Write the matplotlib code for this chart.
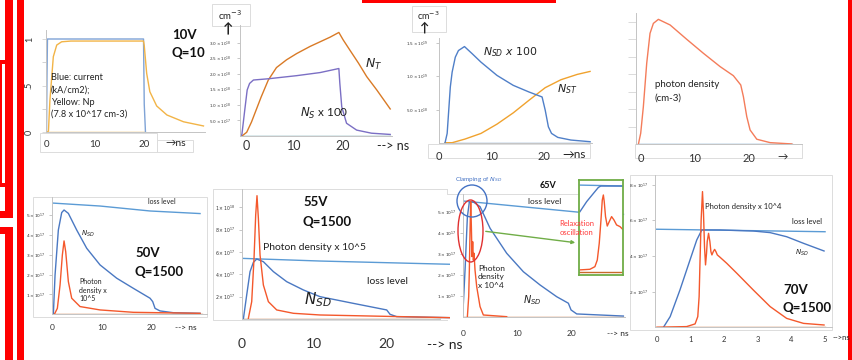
import matplotlib.pyplot as plt
from matplotlib.patches import Rectangle, Ellipse

plt.rcParams['font.family'] = ['Lato', 'DejaVu Sans']
plt.rcParams['mathtext.fontset'] = 'dejavusans'

W, H = 853, 360

# ---------------- data ----------------
# top row, 10V Q=10 : current (kA/cm2) and Np, both normalised
p1_cur_t = [0.0, 0.1, 0.2, 19.9, 20.05, 20.3]
p1_cur = [0.0, 0.6, 1.0, 1.0, 0.3, 0.0]
p1_np_t = [0.2, 0.4, 0.7, 1.4, 2.1, 3.1, 5.0, 19.9, 20.05, 20.55, 21.2, 22.6, 24.7, 28.1, 32.2]
p1_np = [0.0, 0.01, 0.34, 0.81, 0.935, 0.97, 0.978, 0.978, 0.93, 0.63, 0.433, 0.28, 0.183, 0.11, 0.065]

# NT and Ns x 100 (units 1e18 cm-3)
p2_nt_t = [-1.0, 0.0, 1.0, 2.0, 3.0, 4.5, 6.2, 8.3, 10.4, 13.2, 15.3, 17.4, 19.2,
           20.1, 21.5, 23.3, 25.0, 27.1, 29.9]
p2_nt = [0.0, 0.12, 0.45, 0.85, 1.25, 1.8, 2.2, 2.45, 2.65, 2.88, 3.03, 3.18, 3.33,
         3.09, 2.76, 2.34, 1.91, 1.48, 0.87]
p2_ns_t = [-1.2, -1.0, -0.4, 0.1, 0.6, 1.4, 4.5, 10.4, 15.3, 19.2, 19.4, 19.8, 20.8, 22.9, 26.0, 29.9]
p2_ns = [0.0, 0.05, 0.84, 1.48, 1.69, 1.8, 1.84, 1.94, 2.04, 2.17, 1.7, 0.94, 0.41, 0.19, 0.09, 0.05]

# NSD x 100 and NST (units 1e19 cm-3)
p3_nsd_t = [1.1, 1.5, 1.8, 2.1, 2.45, 3.05, 3.65, 4.8, 6.3, 7.95, 11.0, 14.1, 17.1, 19.6,
            20.2, 20.8, 21.4, 22.6, 25.1, 28.75]
p3_nsd = [0.0, 0.14, 0.49, 0.84, 1.065, 1.29, 1.39, 1.45, 1.34, 1.215, 1.015, 0.865, 0.765, 0.69,
          0.49, 0.24, 0.14, 0.08, 0.04, 0.015]
p3_nst_t = [1.1, 2.45, 4.9, 7.95, 11.0, 14.1, 17.1, 20.2, 23.2, 26.3, 28.75]
p3_nst = [0.0, 0.0, 0.055, 0.14, 0.28, 0.45, 0.64, 0.83, 0.95, 1.03, 1.075]

# photon density (tick units)
p4_t = [-0.43, 0.0, 0.49, 1.11, 1.72, 2.34, 3.26, 5.42, 8.49, 11.57, 14.65, 17.1, 18.46,
        18.95, 19.57, 20.18, 21.42, 23.88, 27.88]
p4_ph = [0.0, 0.63, 2.15, 4.63, 6.34, 6.91, 7.14, 6.82, 6.0, 5.2, 4.44, 3.92, 3.39,
         2.72, 1.58, 0.82, 0.29, 0.095, 0.02]

# bottom row, units 1e17 cm-3
p5_loss_t = [0.13, 9.67, 19.67, 29.67]
p5_loss = [5.61, 5.46, 5.21, 5.08]
p5_nsd_t = [0.33, 0.67, 1.33, 2.0, 2.47, 3.33, 5.0, 7.0, 9.67, 13.0, 16.33, 19.67, 20.2, 20.67,
            21.67, 24.33, 29.67]
p5_nsd = [0.0, 1.98, 4.25, 5.13, 5.26, 5.09, 4.25, 3.33, 2.49, 1.82, 1.31, 0.81, 0.64, 0.30,
          0.17, 0.08, 0.05]
p5_ph_t = [0.53, 1.13, 1.67, 2.13, 2.47, 2.8, 3.33, 4.0, 5.67, 9.67, 16.33, 29.67]
p5_ph = [0.0, 0.3, 1.48, 2.99, 3.70, 3.16, 1.65, 0.81, 0.39, 0.22, 0.10, 0.05]

p6_loss_t = [0.0, 10.8, 28.7]
p6_loss = [5.43, 5.19, 4.90]
p6_nsd_t = [0.23, 0.69, 1.15, 1.61, 2.07, 2.99, 4.37, 6.21, 8.51, 10.8, 15.4, 20.0, 20.46, 21.38, 28.7]
p6_nsd = [0.0, 2.15, 4.24, 5.07, 5.37, 5.13, 4.24, 3.34, 2.60, 2.0, 1.40, 0.81, 0.42, 0.21, 0.12]
p6_ph_t = [0.92, 1.38, 1.70, 1.93, 2.11, 2.30, 2.53, 2.99, 3.68, 4.83, 7.13, 10.8, 28.7]
p6_ph = [0.06, 1.55, 5.43, 9.31, 11.04, 9.01, 5.73, 3.04, 1.55, 0.81, 0.51, 0.36, 0.12]

p7_loss_t = [0.0, 21.5, 29.5]
p7_loss = [5.54, 5.0, 4.9]
p7_nsd_t = [0.0, 0.43, 0.86, 1.22, 1.96, 3.18, 5.02, 8.07, 11.13, 14.19, 17.25, 19.39, 19.88, 20.92, 29.48]
p7_nsd = [0.03, 2.25, 4.79, 5.49, 5.49, 5.27, 4.24, 3.05, 2.17, 1.54, 0.98, 0.67, 0.35, 0.16, 0.06]
p7_ph_t = [0.86, 1.1, 1.22, 1.35, 1.47, 1.59, 1.71, 1.83, 1.96, 2.08, 2.26, 2.57, 3.18, 3.79, 8.07]
p7_ph = [0.03, 0.98, 2.25, 4.16, 5.51, 4.32, 2.89, 3.6, 2.73, 3.05, 2.25, 1.46, 0.51, 0.11, 0.03]
# zoomed inset of the 65V run
p7i_ph_t = [0.9, 1.36, 1.59, 1.70, 1.79, 1.87, 1.93, 1.98, 2.02, 2.08, 2.16, 2.25, 2.36, 2.47, 2.59, 2.75, 2.87]
p7i_ph = [0.11, 0.15, 0.32, 0.75, 1.83, 3.34, 4.63, 4.96, 4.53, 3.56, 2.95, 3.23, 3.56, 3.34, 3.02, 2.91, 2.74]
p7i_nsd_t = [0.9, 1.21, 1.52, 1.75, 1.86, 2.9]
p7i_nsd = [3.88, 4.53, 5.06, 5.45, 5.54, 5.54]
p7i_loss_t = [0.9, 2.9]
p7i_loss = [5.6, 5.54]

p8_loss_t = [0.0, 5.0]
p8_loss = [5.50, 5.36]
p8_nsd_t = [0.2, 0.4, 0.69, 0.99, 1.19, 1.34, 1.88, 2.87, 3.37, 3.86, 4.36, 4.97]
p8_nsd = [0.0, 0.6, 2.09, 3.78, 4.9, 5.46, 5.46, 5.40, 5.31, 5.08, 4.71, 4.28]
p8_ph_t = [0.0, 0.89, 1.14, 1.22, 1.26, 1.29, 1.32, 1.36, 1.39, 1.42, 1.45, 1.48, 1.50, 1.54, 1.58,
           1.61, 1.64, 1.68, 1.72, 1.76, 1.80, 1.88, 2.08, 2.38, 2.87, 3.37, 3.86, 4.36, 4.97]
p8_ph = [0.0, 0.04, 0.19, 0.60, 1.72, 3.96, 6.02, 7.61, 6.39, 4.52, 3.50, 4.15, 4.80, 5.27, 4.80,
         4.24, 4.06, 4.24, 4.37, 4.24, 4.06, 3.93, 3.59, 3.03, 2.09, 1.16, 0.50, 0.22, 0.13]

sci17 = [r'$%d\times10^{17}$' % k for k in range(1, 9)]

c_loss = '#5b9bd5'
c_nsd = '#4a78c2'
c_ph = '#f4582c'
c_base = '#c8692a'
LW = 1.0

fig = plt.figure(figsize=(W / 100, H / 100), dpi=100)

# background layer in pixel coordinates (y down)
bg = fig.add_axes([0, 0, 1, 1])
bg.set_xlim(0, W)
bg.set_ylim(H, 0)
bg.axis('off')
red = '#ff0000'
for x, y, w, h in [(17, 0, 7.5, 360), (5, 0, 8, 218), (0, 211, 13, 7), (0, 60, 13, 4),
                   (0, 183, 13, 4), (0, 60, 2.5, 127), (0, 227, 13, 7), (5, 227, 8, 133),
                   (848, 0, 5, 360), (362, 0, 194, 2.5)]:
    bg.add_patch(Rectangle((x, y), w, h, color=red, lw=0))
frame = dict(fill=False, ec='#dcdcdc', lw=0.7)
bg.add_patch(Rectangle((33.3, 196.7), 173.4, 120, **frame))
bg.add_patch(Rectangle((630, 175), 202, 155, **frame))
bg.add_patch(Rectangle((40, 133), 117, 19, **frame))
bg.add_patch(Rectangle((157, 140), 36, 12, **frame))
bg.add_patch(Rectangle((212, 4), 38, 22, **frame))
bg.add_patch(Rectangle((412, 6), 34, 26, **frame))
bg.add_patch(Rectangle((428, 144), 162, 14, **frame))
bg.add_patch(Rectangle((635, 144), 167, 14, **frame))
# open frames of the 55V / 65V plots
bg.plot([447, 213, 213, 447], [189, 189, 320, 320], color='#dcdcdc', lw=0.7)
bg.plot([447, 447, 579], [189, 194, 194], color='#dcdcdc', lw=0.7)


def panel(box, x0, ppx, y0, ppy):
    l, t, r, b = box
    ax = fig.add_axes([l / W, 1 - b / H, (r - l) / W, (b - t) / H])
    ax.set_xlim((l - x0) / ppx, (r - x0) / ppx)
    ax.set_ylim((y0 - b) / ppy, (y0 - t) / ppy)
    ax.patch.set_visible(False)
    ax.spines[['top', 'right']].set_visible(False)
    ax.spines[['left', 'bottom']].set_color('#c4c4c4')
    ax.spines[['left', 'bottom']].set_linewidth(0.7)
    ax.tick_params(colors='#333333', length=0)
    ax.tick_params(axis='y', length=2, width=0.5, color='#b0b0b0')
    return ax


# ---- panel 1 ----
ax = panel((46.5, 30, 205, 132), 46.5, 4.875, 132, 93)
ax.plot([0, 20], [0, 0], color='#f2b447', lw=LW)
ax.plot(p1_cur_t, p1_cur, color='#7fa3d6', lw=LW)
ax.plot(p1_np_t, p1_np, color='#f2b447', lw=LW)
ax.set_yticks([0, 0.5, 1], ['0', '.5', '1'], fontsize=6.5, rotation=90, va='center')
ax.set_yticks([0.25, 0.75], minor=True)
ax.tick_params(axis='y', which='both', length=3, pad=6, color='#cccccc')
ax.set_xticks([0, 10, 20], ['0', '10', '20'], fontsize=7)
ax.tick_params(axis='x', pad=6)

# ---- panel 2 ----
ax = panel((240, 25, 392, 136), 246.7, 4.8, 136, 31.1)
ax.plot([-1.2, 29.9], [0, 0], color='#4f8f9a', lw=LW)
ax.plot(p2_nt_t, p2_nt, color='#d97a26', lw=LW)
ax.plot(p2_ns_t, p2_ns, color='#7b6fc4', lw=LW)
ax.set_yticks([0.5, 1, 1.5, 2, 2.5, 3],
              [r'$5.0\times10^{17}$', r'$1.0\times10^{18}$', r'$1.5\times10^{18}$',
               r'$2.0\times10^{18}$', r'$2.5\times10^{18}$', r'$3.0\times10^{18}$'], fontsize=3)
ax.tick_params(axis='y', pad=4)
ax.set_xticks([0, 10, 20], ['0', '10', '20'], fontsize=9)
ax.tick_params(axis='x', pad=3)

# ---- panel 3 ----
ax = panel((439.3, 38, 592, 142.7), 433.3, 5.45, 142.7, 66.3)
ax.plot([1.1, 28.75], [0, 0], color='#6a8fc0', lw=LW)
ax.plot(p3_nst_t, p3_nst, color='#f0a22e', lw=LW)
ax.plot(p3_nsd_t, p3_nsd, color='#4f7fc8', lw=LW)
ax.set_yticks([0.5, 1.0, 1.5], [r'$5.0\times10^{18}$', r'$1.0\times10^{19}$', r'$1.5\times10^{19}$'],
              fontsize=3)
ax.tick_params(axis='y', pad=6)
ax.set_xticks([0, 10, 20], ['0', '10', '20'], fontsize=8)
ax.tick_params(axis='x', pad=6)

# ---- panel 4 ----
ax = panel((635.7, 13, 801.7, 144.3), 640.7, 5.42, 144.3, 17.5)
ax.plot([-0.43, 27.88], [0, 0], color='#5b8fc0', lw=LW)
ax.plot(p4_t, p4_ph, color='#f47c5a', lw=LW)
ax.set_yticks(range(1, 8), [''] * 7)
ax.tick_params(axis='y', length=6, width=0.6, color='#d6d6d6', pad=0)
ax.set_xticks([0, 10, 20], ['0', '10', '20'], fontsize=8)
ax.tick_params(axis='x', pad=6)

# ---- panel 5 ----
ax = panel((51.7, 196.7, 206.7, 314.3), 51.7, 5.0, 314.3, 19.83)
ax.plot([0, 30], [0, 0], color=c_base, lw=LW)
ax.plot(p5_loss_t, p5_loss, color=c_loss, lw=LW)
ax.plot(p5_nsd_t, p5_nsd, color=c_nsd, lw=LW)
ax.plot(p5_ph_t, p5_ph, color=c_ph, lw=LW)
ax.set_yticks(range(1, 6), sci17[:5], fontsize=3.2)
ax.tick_params(axis='y', pad=2.5)
ax.set_xticks([0, 10, 20], ['0', '10', '20'], fontsize=6)
ax.tick_params(axis='x', pad=7)

# ---- panel 6 ----
ax = panel((241.7, 189, 450, 319), 241.7, 7.25, 319, 11.17)
ax.plot([0, 27.3], [0, 0], color=c_base, lw=LW)
ax.plot(p6_loss_t, p6_loss, color=c_loss, lw=LW)
ax.plot(p6_nsd_t, p6_nsd, color=c_nsd, lw=LW)
ax.plot(p6_ph_t, p6_ph, color=c_ph, lw=LW)
ax.set_yticks([2, 4, 6, 8, 10], sci17[1:8:2] + [r'$1\times10^{18}$'], fontsize=3.3)
ax.tick_params(axis='y', pad=2.5)
ax.set_xticks([0, 10, 20], ['0', '10', '20'], fontsize=10)
ax.tick_params(axis='x', pad=14)
ax.spines['bottom'].set_bounds(0, 27.3)

# ---- panel 7 ----
ax = panel((462.7, 194, 625, 317.3), 462.7, 5.45, 317.3, 21)
ax.plot([0, 29.5], [0, 0], color=c_base, lw=LW)
ax.plot(p7_loss_t, p7_loss, color=c_loss, lw=LW)
ax.plot(p7_nsd_t, p7_nsd, color=c_nsd, lw=LW)
ax.plot(p7_ph_t, p7_ph, color=c_ph, lw=LW)
ax.set_yticks(range(1, 6), sci17[:5], fontsize=3.2)
ax.tick_params(axis='y', pad=2.5)
ax.set_xticks([0, 10, 20], ['0', '10', '20'], fontsize=6)
ax.tick_params(axis='x', pad=9)

# inset
ins = fig.add_axes([579.3 / W, 1 - 275 / H, 44 / W, 95 / H])
ins.set_xlim(0.87, 2.9)
ins.set_ylim(-0.22, 5.93)
ins.set_xticks([])
ins.set_yticks([])
for s in ins.spines.values():
    s.set_color('#70ad47')
    s.set_linewidth(1.3)
ins.plot([0.87, 2.9], [0, 0], color=c_base, lw=LW)
ins.plot(p7i_loss_t, p7i_loss, color=c_loss, lw=LW)
ins.plot(p7i_nsd_t, p7i_nsd, color=c_nsd, lw=LW)
ins.plot(p7i_ph_t, p7i_ph, color=c_ph, lw=LW)

# ---- panel 8 ----
ax = panel((655, 175, 831.7, 327.3), 656.7, 33.67, 327.3, 17.83)
ax.plot([0, 5], [0, 0], color=c_base, lw=LW)
ax.plot(p8_loss_t, p8_loss, color=c_loss, lw=LW)
ax.plot(p8_nsd_t, p8_nsd, color=c_nsd, lw=LW)
ax.plot(p8_ph_t, p8_ph, color=c_ph, lw=LW)
ax.set_yticks([2, 4, 6, 8], sci17[1::2], fontsize=3.2)
ax.tick_params(axis='y', pad=2.5)
ax.set_xticks(range(6), [str(k) for k in range(6)], fontsize=5.5)
ax.tick_params(axis='x', pad=6)

# ---------------- overlay: labels and annotations ----------------
ov = fig.add_axes([0, 0, 1, 1])
ov.set_xlim(0, W)
ov.set_ylim(H, 0)
ov.axis('off')


def txt(x, y, s, size, **kw):
    kw.setdefault('va', 'center')
    kw.setdefault('ha', 'left')
    kw.setdefault('color', '#222222')
    ov.text(x, y, s, fontsize=size, **kw)


bold = dict(fontweight='bold', color='#111111')
# panel 1
txt(172, 35, '10V', 9.5, **bold)
txt(172, 53, 'Q=10', 9.5, **bold)
txt(51, 96, 'Blue: current\n(kA/cm2);\nYellow: Np\n(7.8 x 10^17 cm-3)', 6.6, linespacing=1.45)
txt(165, 144, '→ns', 7.5)
# panel 2
txt(218, 15, r'cm$^{-3}$', 7)
txt(228, 29, '↑', 10, ha='center', fontweight='bold')
txt(365, 64, r'$N_T$', 9)
txt(300, 113, r'$N_S$ x 100', 8.5)
txt(377, 146, '--> ns', 9)
# panel 3
txt(417, 16, r'cm$^{-3}$', 6.5)
txt(425, 28, '↑', 9, ha='center', fontweight='bold')
txt(483, 52, r'$N_{SD}\ x\ 100$', 7.8)
txt(557, 89, r'$N_{ST}$', 8)
txt(562, 155, '→ns', 8.5)
# panel 4
txt(655, 91, 'photon density\n(cm-3)', 7, linespacing=1.6)
txt(777, 157, '→', 7.5)
# panel 5
txt(135, 253, '50V', 9.5, **bold)
txt(135, 272, 'Q=1500', 9.5, **bold)
txt(148, 202, 'loss level', 5)
txt(81, 234, r'$N_{SD}$', 5)
txt(79, 290, 'Photon\ndensity x\n10^5', 5, linespacing=1.3)
txt(175, 327, '--> ns', 6)
# panel 6
txt(303, 202, '55V', 9.5, **bold)
txt(303, 222, 'Q=1500', 9.5, **bold)
txt(263, 247, 'Photon density x 10^5', 7.5)
txt(367, 282, 'loss level', 7.5)
txt(304, 300, r'$N_{SD}$', 11)
txt(427, 345, '--> ns', 10)
# panel 7
txt(455, 180, r'Clamping of $N_{SD}$', 4.5, color='#4472c4')
txt(540, 186, '65V', 6.5, **bold)
txt(528, 202, 'loss level', 6)
txt(577, 228, 'Relaxation\noscillation', 5.5, ha='center', color='#ff3b3b', linespacing=1.3)
txt(478, 277, 'Photon\ndensity\nx 10^4', 6, linespacing=1.25)
txt(523, 300, r'$N_{SD}$', 7)
txt(607, 334, '--> ns', 6)
ov.add_patch(Ellipse((472, 201), 30, 32, fill=False, ec='#4472c4', lw=1.0))
ov.add_patch(Ellipse((470.5, 231), 25, 62, fill=False, ec='#e03030', lw=1.0))
ov.annotate('', xy=(578, 243), xytext=(483, 231),
            arrowprops=dict(arrowstyle='-|>', color='#70ad47', lw=1.0, mutation_scale=5))
# panel 8
txt(705, 207, 'Photon density x 10^4', 5.5)
txt(792, 222, 'loss level', 5.5)
txt(795, 253, r'$N_{SD}$', 5)
txt(783, 290, '70V', 9.5, **bold)
txt(783, 308, 'Q=1500', 9.5, **bold)
txt(833, 338, '-->ns', 5.5)

fig.savefig('out.png', dpi=100)
